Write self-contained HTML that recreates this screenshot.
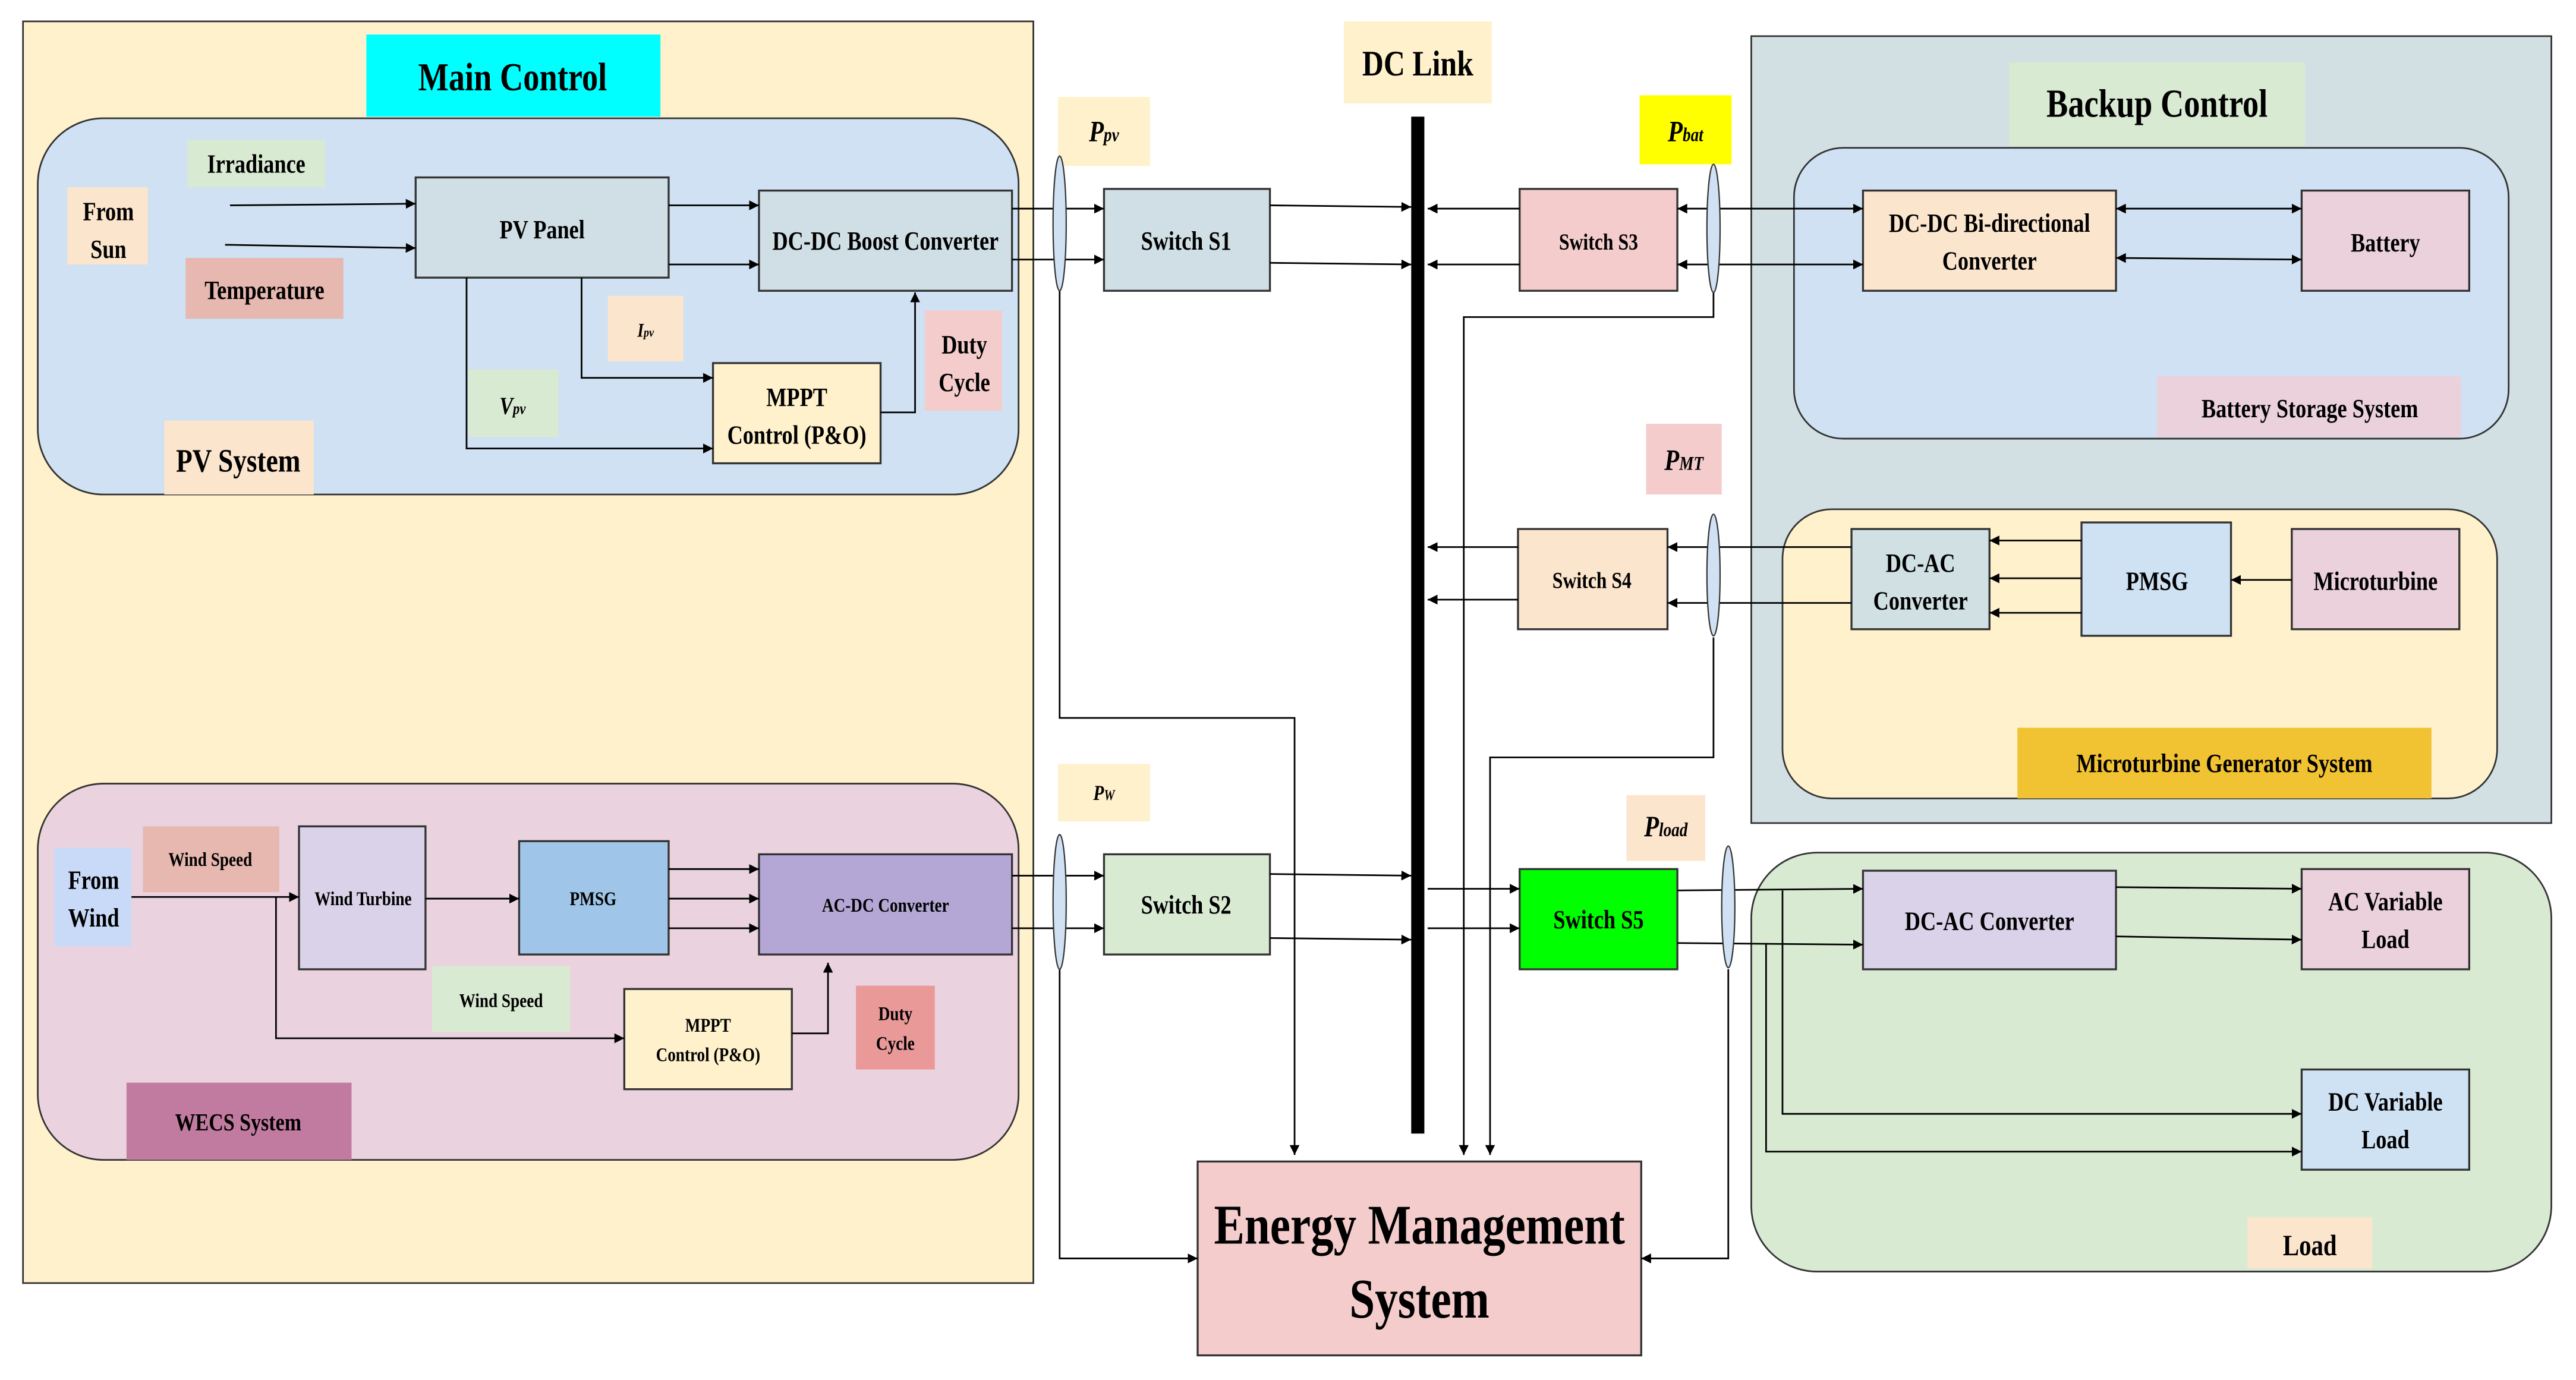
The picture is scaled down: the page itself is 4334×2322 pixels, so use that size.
<!DOCTYPE html>
<html><head><meta charset="utf-8"><style>
html,body{margin:0;padding:0;background:#fff}
svg{display:block}
text{font-family:"Liberation Serif",serif;font-weight:bold;fill:#000}
</style></head><body>
<svg width="4334" height="2322" viewBox="0 0 1568 840" preserveAspectRatio="none" xmlns="http://www.w3.org/2000/svg">
<defs>
<marker id="a" markerWidth="8" markerHeight="8" refX="6" refY="3" orient="auto" markerUnits="userSpaceOnUse"><path d="M0,0 L6,3 L0,6 z" fill="#000"/></marker>
<marker id="b" markerWidth="8" markerHeight="8" refX="0" refY="3" orient="auto" markerUnits="userSpaceOnUse"><path d="M6,0 L0,3 L6,6 z" fill="#000"/></marker>
</defs>
<g stroke="#333" stroke-width="1">
<rect x="14" y="13" width="615" height="768" fill="#fff1cc"/>
<rect x="1066" y="22" width="487" height="479" fill="#d2e0e3"/>
<rect x="23" y="72" width="597" height="229" rx="40" fill="#cfe1f2"/>
<rect x="23" y="477" width="597" height="229" rx="40" fill="#ead3de"/>
<rect x="1092" y="90" width="435" height="177" rx="30" fill="#cfe1f2"/>
<rect x="1085" y="310" width="435" height="176" rx="30" fill="#fff1cc"/>
<rect x="1066" y="519" width="487" height="255" rx="40" fill="#d9ead3"/>
</g>
<g stroke="none">
<rect x="223" y="21" width="179" height="50" fill="#00ffff"/>
<rect x="114" y="85" width="84" height="29" fill="#d9ead3"/>
<rect x="41" y="114" width="49" height="47" fill="#fce5cd"/>
<rect x="113" y="157" width="96" height="37" fill="#e6b8af"/>
<rect x="370" y="180" width="46" height="40" fill="#fce5cd"/>
<rect x="285" y="225" width="55" height="41" fill="#d9ead3"/>
<rect x="563" y="189" width="47" height="61" fill="#f4cccc"/>
<rect x="100" y="256" width="91" height="45" fill="#fce5cd"/>
<rect x="644" y="59" width="56" height="42" fill="#fff1cc"/>
<rect x="818" y="13" width="90" height="50" fill="#fff1cc"/>
<rect x="998" y="58" width="56" height="42" fill="#ffff00"/>
<rect x="1223" y="38" width="180" height="51" fill="#d9ead3"/>
<rect x="1313" y="229" width="185" height="37" fill="#ead1dc"/>
<rect x="1002" y="258" width="46" height="43" fill="#f4cccc"/>
<rect x="1228" y="443" width="252" height="43" fill="#f1c232"/>
<rect x="644" y="465" width="56" height="35" fill="#fff1cc"/>
<rect x="990" y="484" width="48" height="40" fill="#fce5cd"/>
<rect x="33" y="516" width="47" height="60" fill="#c9daf8"/>
<rect x="87" y="503" width="83" height="40" fill="#e6b8af"/>
<rect x="263" y="588" width="84" height="40" fill="#d9ead3"/>
<rect x="521" y="600" width="48" height="51" fill="#ea9999"/>
<rect x="77" y="659" width="137" height="47" fill="#c27ba0"/>
<rect x="1368" y="741" width="76" height="31" fill="#fce5cd"/>
<rect x="859" y="71" width="8" height="619" fill="#000"/>
</g>
<g stroke="#333" stroke-width="1.2">
<rect x="253" y="108" width="154" height="61" fill="#d0dfe6"/>
<rect x="462" y="116" width="154" height="61" fill="#d0dfe6"/>
<rect x="434" y="221" width="102" height="61" fill="#fff1cc"/>
<rect x="672" y="115" width="101" height="62" fill="#d0dfe6"/>
<rect x="925" y="115" width="96" height="62" fill="#f4cccc"/>
<rect x="1134" y="116" width="154" height="61" fill="#fce5cd"/>
<rect x="1401" y="116" width="102" height="61" fill="#ead1dc"/>
<rect x="924" y="322" width="91" height="61" fill="#fce5cd"/>
<rect x="1127" y="322" width="84" height="61" fill="#d0e0e3"/>
<rect x="1267" y="318" width="91" height="69" fill="#cfe2f3"/>
<rect x="1395" y="322" width="102" height="61" fill="#ead1dc"/>
<rect x="672" y="520" width="101" height="61" fill="#d9ead3"/>
<rect x="925" y="529" width="96" height="61" fill="#00ff00"/>
<rect x="182" y="503" width="77" height="87" fill="#d9d2e9"/>
<rect x="316" y="512" width="91" height="69" fill="#9fc5e8"/>
<rect x="462" y="520" width="154" height="61" fill="#b4a7d6"/>
<rect x="380" y="602" width="102" height="61" fill="#fff1cc"/>
<rect x="1134" y="530" width="154" height="60" fill="#d9d2e9"/>
<rect x="1401" y="529" width="102" height="61" fill="#ead1dc"/>
<rect x="1401" y="651" width="102" height="61" fill="#cfe2f3"/>
<rect x="729" y="707" width="270" height="118" fill="#f4cccc"/>
</g>
<g stroke="#000" stroke-width="1" fill="none" marker-end="url(#a)">
<line x1="140" y1="125" x2="253" y2="124"/><line x1="137" y1="149" x2="253" y2="151"/>
<line x1="407" y1="125" x2="462" y2="125"/><line x1="407" y1="161" x2="462" y2="161"/>
<line x1="616" y1="127" x2="672" y2="127"/><line x1="616" y1="158" x2="672" y2="158"/>
<line x1="773" y1="125" x2="859" y2="126"/><line x1="773" y1="160" x2="859" y2="161"/>
<polyline points="284,169 284,273 434,273"/><polyline points="354,169 354,230 434,230"/>
<polyline points="536,251 557,251 557,178"/>
<polyline points="645,177 645,437 788,437 788,703"/>
<line x1="925" y1="127" x2="869" y2="127"/><line x1="925" y1="161" x2="869" y2="161"/>
<line x1="1021" y1="127" x2="1134" y2="127" marker-start="url(#b)"/><line x1="1021" y1="161" x2="1134" y2="161" marker-start="url(#b)"/>
<line x1="1288" y1="127" x2="1401" y2="127" marker-start="url(#b)"/><line x1="1288" y1="157" x2="1401" y2="158" marker-start="url(#b)"/>
<polyline points="1043,177 1043,193 891,193 891,703"/>
<line x1="924" y1="333" x2="869" y2="333"/><line x1="924" y1="365" x2="869" y2="365"/>
<line x1="1127" y1="333" x2="1015" y2="333"/><line x1="1127" y1="367" x2="1015" y2="367"/>
<line x1="1267" y1="329" x2="1211" y2="329"/><line x1="1267" y1="352" x2="1211" y2="352"/><line x1="1267" y1="373" x2="1211" y2="373"/>
<line x1="1395" y1="353" x2="1358" y2="353"/>
<polyline points="1043,388 1043,461 907,461 907,703"/>
<line x1="80" y1="546" x2="182" y2="546"/><polyline points="168,546 168,632 380,632"/>
<line x1="259" y1="547" x2="316" y2="547"/>
<line x1="407" y1="529" x2="462" y2="529"/><line x1="407" y1="547" x2="462" y2="547"/><line x1="407" y1="565" x2="462" y2="565"/>
<line x1="616" y1="533" x2="672" y2="533"/><line x1="616" y1="565" x2="672" y2="565"/>
<polyline points="482,629 504,629 504,586"/>
<line x1="773" y1="532" x2="859" y2="533"/><line x1="773" y1="571" x2="859" y2="572"/>
<line x1="869" y1="541" x2="925" y2="541"/><line x1="869" y1="565" x2="925" y2="565"/>
<line x1="1021" y1="542" x2="1134" y2="541"/><line x1="1021" y1="574" x2="1134" y2="575"/>
<line x1="1288" y1="540" x2="1401" y2="541"/><line x1="1288" y1="570" x2="1401" y2="572"/>
<polyline points="1085,542 1085,678 1401,678"/><polyline points="1075,574 1075,701 1401,701"/>
<polyline points="645,590 645,766 729,766"/><polyline points="1052,590 1052,766 999,766"/>
</g>
<g stroke="#333" stroke-width="0.8" fill="#cfe1f2">
<ellipse cx="645" cy="136" rx="4" ry="41"/><ellipse cx="1043" cy="139" rx="4" ry="39"/>
<ellipse cx="1043" cy="350" rx="4" ry="37"/><ellipse cx="645" cy="549" rx="4" ry="41"/>
<ellipse cx="1052" cy="552" rx="4" ry="37"/>
</g>
<g text-anchor="middle">
<text transform="translate(312,55) scale(0.82,1)" font-size="24">Main Control</text>
<text transform="translate(156,105) scale(0.82,1)" font-size="16">Irradiance</text>
<text transform="translate(66,134) scale(0.82,1)" font-size="16">From</text>
<text transform="translate(66,157) scale(0.82,1)" font-size="16">Sun</text>
<text transform="translate(161,182) scale(0.82,1)" font-size="16">Temperature</text>
<text transform="translate(330,145) scale(0.82,1)" font-size="16">PV Panel</text>
<text transform="translate(539,152) scale(0.82,1)" font-size="16">DC-DC Boost Converter</text>
<text transform="translate(393,205) scale(0.82,1)" font-size="12" font-style="italic">I<tspan font-size="8">pv</tspan></text>
<text transform="translate(312,252) scale(0.82,1)" font-size="15" font-style="italic">V<tspan font-size="10">pv</tspan></text>
<text transform="translate(485,247) scale(0.82,1)" font-size="16">MPPT</text>
<text transform="translate(485,270) scale(0.82,1)" font-size="16">Control (P&amp;O)</text>
<text transform="translate(587,215) scale(0.82,1)" font-size="16">Duty</text>
<text transform="translate(587,238) scale(0.82,1)" font-size="16">Cycle</text>
<text transform="translate(145,287) scale(0.82,1)" font-size="20">PV System</text>
<text transform="translate(672,86) scale(0.82,1)" font-size="18" font-style="italic">P<tspan font-size="12">pv</tspan></text>
<text transform="translate(722,152) scale(0.82,1)" font-size="16">Switch S1</text>
<text transform="translate(863,46) scale(0.82,1)" font-size="22">DC Link</text>
<text transform="translate(1026,86) scale(0.82,1)" font-size="18" font-style="italic">P<tspan font-size="12">bat</tspan></text>
<text transform="translate(973,152) scale(0.82,1)" font-size="14">Switch S3</text>
<text transform="translate(1313,71) scale(0.82,1)" font-size="24">Backup Control</text>
<text transform="translate(1211,141) scale(0.82,1)" font-size="16">DC-DC Bi-directional</text>
<text transform="translate(1211,164) scale(0.82,1)" font-size="16">Converter</text>
<text transform="translate(1452,153) scale(0.82,1)" font-size="16">Battery</text>
<text transform="translate(1406,254) scale(0.82,1)" font-size="16">Battery Storage System</text>
<text transform="translate(1025,286) scale(0.82,1)" font-size="18" font-style="italic">P<tspan font-size="12">MT</tspan></text>
<text transform="translate(969,358) scale(0.82,1)" font-size="14">Switch S4</text>
<text transform="translate(1169,348) scale(0.82,1)" font-size="16">DC-AC</text>
<text transform="translate(1169,371) scale(0.82,1)" font-size="16">Converter</text>
<text transform="translate(1313,359) scale(0.82,1)" font-size="16">PMSG</text>
<text transform="translate(1446,359) scale(0.82,1)" font-size="16">Microturbine</text>
<text transform="translate(1354,470) scale(0.82,1)" font-size="16">Microturbine Generator  System</text>
<text transform="translate(672,487) scale(0.82,1)" font-size="13" font-style="italic">P<tspan font-size="9">W</tspan></text>
<text transform="translate(1014,509) scale(0.82,1)" font-size="18" font-style="italic">P<tspan font-size="12">load</tspan></text>
<text transform="translate(722,556) scale(0.82,1)" font-size="16">Switch S2</text>
<text transform="translate(973,565) scale(0.82,1)" font-size="16">Switch S5</text>
<text transform="translate(57,541) scale(0.82,1)" font-size="16">From</text>
<text transform="translate(57,564) scale(0.82,1)" font-size="16">Wind</text>
<text transform="translate(128,527) scale(0.82,1)" font-size="12">Wind Speed</text>
<text transform="translate(221,551) scale(0.82,1)" font-size="12">Wind Turbine</text>
<text transform="translate(361,551) scale(0.82,1)" font-size="12">PMSG</text>
<text transform="translate(539,555) scale(0.82,1)" font-size="12">AC-DC Converter</text>
<text transform="translate(305,613) scale(0.82,1)" font-size="12">Wind Speed</text>
<text transform="translate(431,628) scale(0.82,1)" font-size="12">MPPT</text>
<text transform="translate(431,646) scale(0.82,1)" font-size="12">Control (P&amp;O)</text>
<text transform="translate(545,621) scale(0.82,1)" font-size="12">Duty</text>
<text transform="translate(545,639) scale(0.82,1)" font-size="12">Cycle</text>
<text transform="translate(145,688) scale(0.82,1)" font-size="15">WECS System</text>
<text transform="translate(1211,566) scale(0.82,1)" font-size="16">DC-AC Converter</text>
<text transform="translate(1452,554) scale(0.82,1)" font-size="16">AC Variable</text>
<text transform="translate(1452,577) scale(0.82,1)" font-size="16">Load</text>
<text transform="translate(1452,676) scale(0.82,1)" font-size="16">DC Variable</text>
<text transform="translate(1452,699) scale(0.82,1)" font-size="16">Load</text>
<text transform="translate(1406,764) scale(0.82,1)" font-size="18">Load</text>
<text transform="translate(864,757) scale(0.82,1)" font-size="34">Energy Management</text>
<text transform="translate(864,802) scale(0.82,1)" font-size="34">System</text>
</g>
</svg>
</body></html>
